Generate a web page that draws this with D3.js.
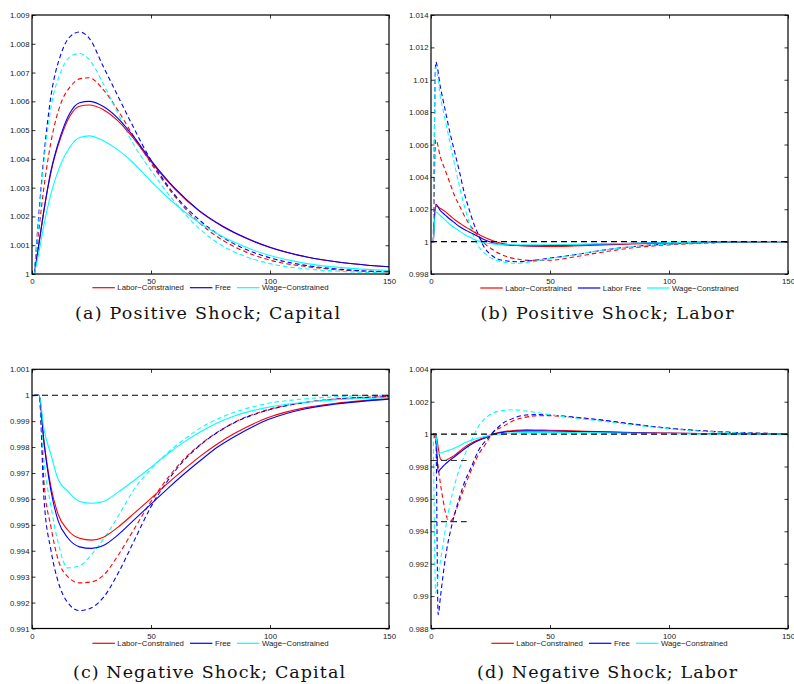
<!DOCTYPE html>
<html>
<head>
<meta charset="utf-8">
<script src="https://cdn.jsdelivr.net/npm/d3@7"></script>
<style>
  body { margin: 0; background: #fff; }
  svg { display: block; }
</style>
</head>
<body>
<div id="chart"></div>
<script>
const WIDTH = 794;
const HEIGHT = 684;

const COLORS = ["#ff0000", "#0000ff", "#00ffff"];
const xTicks = [0, 50, 100, 150];

const legendCapital = ["Labor\u2212Constrained", "Free", "Wage\u2212Constrained"];
const legendLaborB = ["Labor\u2212Constrained", "Labor Free", "Wage\u2212Constrained"];

// (a) positive shock, capital
const xA = [1, 3, 5, 8, 12, 16, 20, 24, 30, 36, 42, 50, 60, 70, 80, 90, 100, 115, 130, 150];
const aLabor = [1.0, 1.0011, 1.0022, 1.00355, 1.00472, 1.0055, 1.00583, 1.00587, 1.00571, 1.00533, 1.00478, 1.0039, 1.00295, 1.0022, 1.00165, 1.00124, 1.00092, 1.0006, 1.0004, 1.00025];
const aFree = [1.0, 1.0011, 1.0022, 1.0036, 1.0048, 1.0056, 1.00595, 1.006, 1.00582, 1.00542, 1.00485, 1.00395, 1.00298, 1.00222, 1.00167, 1.00125, 1.00093, 1.0006, 1.0004, 1.00025];
const aWage = [1.0, 1.0008, 1.0017, 1.0028, 1.0038, 1.00442, 1.00474, 1.0048, 1.00463, 1.00432, 1.0039, 1.00322, 1.00244, 1.0018, 1.0013, 1.00093, 1.00064, 1.00037, 1.00022, 1.00012];
const aLaborD = [1.0, 1.0016, 1.003, 1.0046, 1.0059, 1.0065, 1.00678, 1.00682, 1.0064, 1.0057, 1.00488, 1.00385, 1.0027, 1.0018, 1.00118, 1.00076, 1.00048, 1.00026, 1.00014, 1.00007];
const aFreeD = [1.0, 1.0022, 1.0041, 1.0062, 1.0076, 1.00825, 1.00841, 1.0082, 1.0072, 1.0062, 1.0052, 1.00395, 1.00275, 1.0019, 1.00128, 1.00085, 1.00056, 1.0003, 1.00016, 1.00008];
const aWageD = [1.0, 1.002, 1.0039, 1.0058, 1.007, 1.00755, 1.00766, 1.00745, 1.0066, 1.0056, 1.0046, 1.0036, 1.0025, 1.0016, 1.00098, 1.0006, 1.00036, 1.00018, 1.00009, 1.00004];
const yTicksA = [1, 1.001, 1.002, 1.003, 1.004, 1.005, 1.006, 1.007, 1.008, 1.009];

// (b) positive shock, labor
const xB = [1, 2, 4, 6, 8, 10, 12, 14, 16, 18, 20, 22, 26, 30, 36, 42, 50, 60, 70, 85, 100, 120, 150];
const bLabor = [1, 1.0022, 1.00205, 1.00185, 1.0016, 1.00135, 1.00115, 1.00095, 1.00078, 1.0006, 1.00045, 1.0003, 1.00005, 0.99988, 0.99976, 0.99971, 0.9997, 0.99973, 0.99978, 0.99986, 0.99992, 0.99997, 1.0];
const bFree = [1, 1.0023, 1.0019, 1.00164, 1.00138, 1.00115, 1.00093, 1.00075, 1.0006, 1.00045, 1.0003, 1.00015, 0.99993, 0.99982, 0.99976, 0.99975, 0.99976, 0.99979, 0.99983, 0.99989, 0.99994, 0.99998, 1.0];
const bWage = [1, 1.00185, 1.0016, 1.00133, 1.00106, 1.00084, 1.00065, 1.00045, 1.0003, 1.00015, 1.00003, 0.99995, 0.99986, 0.99981, 0.9998, 0.9998, 0.99981, 0.99983, 0.99986, 0.9999, 0.99994, 0.99998, 1.0];
const bLaborD = [1, 1.0063, 1.0052, 1.0044, 1.0036, 1.0028, 1.0022, 1.0016, 1.0011, 1.0007, 1.0003, 0.99995, 0.9995, 0.99917, 0.99893, 0.99884, 0.99885, 0.99905, 0.9993, 0.99962, 0.9998, 0.99993, 1.0];
const bFreeD = [1, 1.0111, 1.0095, 1.0081, 1.0067, 1.0055, 1.0043, 1.003, 1.002, 1.0011, 1.0004, 0.99975, 0.9991, 0.99885, 0.99876, 0.99882, 0.99898, 0.99918, 0.99942, 0.9997, 0.99985, 0.99995, 1.0];
const bWageD = [1, 1.0108, 1.0089, 1.0075, 1.0061, 1.0047, 1.0034, 1.0022, 1.0012, 1.0003, 0.9997, 0.99935, 0.99893, 0.99875, 0.99866, 0.99875, 0.99895, 0.99918, 0.99942, 0.9997, 0.99985, 0.99995, 1.0];
const yTicksB = [0.998, 1, 1.002, 1.004, 1.006, 1.008, 1.01, 1.012, 1.014];

// (c) negative shock, capital
const xC = [1, 3, 5, 8, 11, 15, 20, 25, 30, 36, 43, 50, 57, 64, 71, 78, 85, 99, 115, 127, 150];
const cLabor = [1, 1, 0.99825, 0.99645, 0.9954, 0.9948, 0.99448, 0.99441, 0.99452, 0.9949, 0.99545, 0.99602, 0.9966, 0.99715, 0.99767, 0.99813, 0.99852, 0.99913, 0.99952, 0.99968, 0.99987];
const cFree = [1, 1, 0.9982, 0.9963, 0.99515, 0.9945, 0.99415, 0.99409, 0.9942, 0.9946, 0.9952, 0.9958, 0.9964, 0.99697, 0.9975, 0.998, 0.9984, 0.99905, 0.99948, 0.99965, 0.99985];
const cWage = [1, 1, 0.9987, 0.9977, 0.99675, 0.9963, 0.9959, 0.99583, 0.9959, 0.99625, 0.99672, 0.99722, 0.99774, 0.9982, 0.9986, 0.99894, 0.9992, 0.99953, 0.99973, 0.99982, 0.9999];
const cLaborD = [1, 1, 0.9967, 0.9949, 0.99365, 0.993, 0.99276, 0.9928, 0.99305, 0.9938, 0.99485, 0.9959, 0.9968, 0.99755, 0.99812, 0.99858, 0.99895, 0.99944, 0.99973, 0.99985, 0.99995];
const cFreeD = [1, 1, 0.99605, 0.994, 0.9928, 0.992, 0.99169, 0.9918, 0.9922, 0.9931, 0.9944, 0.9957, 0.9967, 0.9975, 0.9981, 0.99857, 0.99894, 0.99942, 0.99972, 0.99984, 0.99994];
const cWageD = [1, 1, 0.9975, 0.9957, 0.9943, 0.99334, 0.99342, 0.99385, 0.99445, 0.9953, 0.99638, 0.99715, 0.99778, 0.9983, 0.99875, 0.99908, 0.99934, 0.99968, 0.99986, 0.99994, 1.0];
const yTicksC = [0.991, 0.992, 0.993, 0.994, 0.995, 0.996, 0.997, 0.998, 0.999, 1, 1.001];

// (d) negative shock, labor
const xD = [1, 2, 3, 4, 5, 6, 7, 8, 10, 12, 14, 17, 20, 23, 26, 30, 35, 40, 45, 50, 60, 70, 85, 100, 120, 150];
const dLabor = [1, 1.0, 0.9992, 0.99845, 0.99837, 0.99838, 0.99845, 0.99853, 0.9987, 0.99895, 0.99918, 0.99945, 0.99965, 0.99983, 1.0, 1.00015, 1.00022, 1.00026, 1.00025, 1.00024, 1.0002, 1.00016, 1.0001, 1.00006, 1.00002, 1.0];
const dFree = [1, 1.0, 0.99765, 0.99785, 0.998, 0.99815, 0.99828, 0.9984, 0.99862, 0.99885, 0.99908, 0.99937, 0.9996, 0.99978, 0.99997, 1.0001, 1.00018, 1.0002, 1.0002, 1.00019, 1.00016, 1.00013, 1.00008, 1.00005, 1.00002, 1.0];
const dWage = [1, 1.0, 0.99878, 0.99883, 0.99888, 0.99893, 0.99898, 0.99903, 0.99915, 0.99928, 0.99945, 0.99962, 0.99976, 0.99987, 0.99995, 1.00003, 1.00008, 1.0001, 1.0001, 1.0001, 1.00009, 1.00008, 1.00005, 1.00003, 1.00001, 1.0];
const dLaborD = [1, 0.9995, 0.998, 0.9969, 0.996, 0.9952, 0.99475, 0.9946, 0.9951, 0.9959, 0.9967, 0.9978, 0.99875, 0.9994, 1.0001, 1.00045, 1.00085, 1.00105, 1.00113, 1.00113, 1.00103, 1.00088, 1.0006, 1.00036, 1.00015, 1.00002];
const dFreeD = [1, 1.0, 0.98885, 0.99, 0.9912, 0.9923, 0.9932, 0.9939, 0.9951, 0.9961, 0.997, 0.998, 0.999, 0.9996, 1.0001, 1.00065, 1.001, 1.00118, 1.0012, 1.00118, 1.00105, 1.0009, 1.00062, 1.00036, 1.00015, 1.00002];
const dWageD = [1, 0.9902, 0.9912, 0.9922, 0.9931, 0.9941, 0.9949, 0.9957, 0.9969, 0.9979, 0.99865, 0.99962, 1.0005, 1.001, 1.0013, 1.00145, 1.0015, 1.00142, 1.00132, 1.0012, 1.001, 1.00083, 1.00057, 1.00033, 1.00013, 1.00002];
const yTicksD = [0.988, 0.99, 0.992, 0.994, 0.996, 0.998, 1, 1.002, 1.004];

// black dashed reference segments: [y, xStart, xEnd]
const refFull = [[1, 0, 150]];
const refD = [[1, 0, 150], [0.99837, 0, 15], [0.9946, 0, 15]];

const panels = [
  { x: xA, solid: [aLabor, aFree, aWage], dashed: [aLaborD, aFreeD, aWageD], yDomain: [1, 1.009], yTicks: yTicksA,
    refs: [], legend: legendCapital, caption: "(a) Positive Shock; Capital",
    box: { left: 32, right: 389, top: 15, bottom: 274 }, legendY: 287.7, capX: 207.5, capY: 319, capW: 265 },
  { x: xB, solid: [bLabor, bFree, bWage], dashed: [bLaborD, bFreeD, bWageD], yDomain: [0.998, 1.014], yTicks: yTicksB,
    refs: refFull, legend: legendLaborB, caption: "(b) Positive Shock; Labor",
    box: { left: 431, right: 788, top: 15, bottom: 274 }, legendY: 288, capX: 607, capY: 319, capW: 253 },
  { x: xC, solid: [cLabor, cFree, cWage], dashed: [cLaborD, cFreeD, cWageD], yDomain: [0.991, 1.001], yTicks: yTicksC,
    refs: refFull, legend: legendCapital, caption: "(c) Negative Shock; Capital",
    box: { left: 32, right: 389, top: 369.3, bottom: 628.5 }, legendY: 643.3, capX: 209, capY: 677.5, capW: 272 },
  { x: xD, solid: [dLabor, dFree, dWage], dashed: [dLaborD, dFreeD, dWageD], yDomain: [0.988, 1.004], yTicks: yTicksD,
    refs: refD, legend: legendCapital, caption: "(d) Negative Shock; Labor",
    box: { left: 431, right: 788, top: 369.3, bottom: 628.5 }, legendY: 643.3, capX: 607, capY: 677.5, capW: 260 },
];

const svg = d3
  .select("#chart")
  .append("svg")
  .attr("width", WIDTH)
  .attr("height", HEIGHT)
  .attr("viewBox", `0 0 ${WIDTH} ${HEIGHT}`);

svg.append("rect").attr("width", WIDTH).attr("height", HEIGHT).attr("fill", "#fff");

const tickFmt = d3.format("~g");

function styleAxis(g) {
  g.select(".domain").remove();
  g.attr("font-family", "'Liberation Sans', Arial, sans-serif").attr("font-size", 7.8);
  g.selectAll("line").attr("stroke", "#000").attr("stroke-width", 0.8);
  g.selectAll("text").attr("fill", "#222");
}

function drawPanel(p, idx) {
  const { left, right, top, bottom } = p.box;
  const x = d3.scaleLinear().domain([0, 150]).range([left, right]);
  const y = d3.scaleLinear().domain(p.yDomain).range([bottom, top]);
  const g = svg.append("g");

  const clipId = `clip-${idx}`;
  g.append("clipPath")
    .attr("id", clipId)
    .append("rect")
    .attr("x", left)
    .attr("y", top)
    .attr("width", right - left)
    .attr("height", bottom - top);

  const line = d3
    .line()
    .x((d) => x(d[0]))
    .y((d) => y(d[1]))
    .curve(d3.curveMonotoneX);

  const plot = g.append("g").attr("clip-path", `url(#${clipId})`);

  p.dashed.forEach((vals, i) => {
    plot
      .append("path")
      .datum(d3.zip(p.x, vals))
      .attr("d", line)
      .attr("fill", "none")
      .attr("stroke", COLORS[i])
      .attr("stroke-width", 1.1)
      .attr("stroke-dasharray", "4.5,3");
  });

  p.solid.forEach((vals, i) => {
    plot
      .append("path")
      .datum(d3.zip(p.x, vals))
      .attr("d", line)
      .attr("fill", "none")
      .attr("stroke", COLORS[i])
      .attr("stroke-width", 1.1);
  });

  plot
    .selectAll("line.ref")
    .data(p.refs)
    .join("line")
    .attr("class", "ref")
    .attr("x1", (d) => x(d[1]))
    .attr("x2", (d) => x(d[2]))
    .attr("y1", (d) => y(d[0]))
    .attr("y2", (d) => y(d[0]))
    .attr("stroke", (d, i) => (i === 0 ? "#000" : "#333"))
    .attr("stroke-width", 1.1)
    .attr("stroke-dasharray", "6,4");

  // axes: ticks point inward on all four sides
  g.append("g")
    .attr("transform", `translate(0,${bottom})`)
    .call(d3.axisBottom(x).tickValues(xTicks).tickSizeInner(-3.5).tickSizeOuter(0).tickPadding(4.5).tickFormat(d3.format("d")))
    .call(styleAxis);

  g.append("g")
    .attr("transform", `translate(0,${top})`)
    .call(d3.axisTop(x).tickValues(xTicks).tickSizeInner(-3.5).tickSizeOuter(0).tickFormat(""))
    .call(styleAxis);

  g.append("g")
    .attr("transform", `translate(${left},0)`)
    .call(d3.axisLeft(y).tickValues(p.yTicks).tickSizeInner(-3.5).tickSizeOuter(0).tickPadding(2.5).tickFormat(tickFmt))
    .call(styleAxis);

  g.append("g")
    .attr("transform", `translate(${right},0)`)
    .call(d3.axisRight(y).tickValues(p.yTicks).tickSizeInner(-3.5).tickSizeOuter(0).tickFormat(""))
    .call(styleAxis);

  g.append("rect")
    .attr("x", left)
    .attr("y", top)
    .attr("width", right - left)
    .attr("height", bottom - top)
    .attr("fill", "none")
    .attr("stroke", "#000")
    .attr("stroke-width", 1.2);

  // legend row centred under the plot
  const leg = g.append("g");
  const items = leg
    .selectAll("g")
    .data(p.legend)
    .join("g");
  items
    .append("line")
    .attr("x1", 0)
    .attr("x2", 22.5)
    .attr("y1", p.legendY)
    .attr("y2", p.legendY)
    .attr("stroke", (d, i) => COLORS[i])
    .attr("stroke-width", 1.2);
  items
    .append("text")
    .attr("x", 25)
    .attr("y", p.legendY)
    .attr("dy", "0.35em")
    .attr("font-family", "'Liberation Sans', Arial, sans-serif")
    .attr("font-size", 7.8)
    .attr("fill", "#222")
    .text((d) => d);

  let offset = 0;
  const offsets = [];
  items.each(function () {
    offsets.push(offset);
    const w = d3.select(this).select("text").node().getComputedTextLength();
    offset += 25 + w + 6;
  });
  const total = offset - 6;
  const start = (left + right) / 2 - total / 2;
  items.attr("transform", (d, i) => `translate(${start + offsets[i]},0)`);

  svg
    .append("text")
    .attr("x", p.capX)
    .attr("y", p.capY)
    .attr("text-anchor", "middle")
    .attr("font-family", "'DejaVu Serif', serif")
    .attr("font-size", 17.5)
    .attr("fill", "#111")
    .attr("textLength", p.capW)
    .attr("lengthAdjust", "spacing")
    .text(p.caption);
}

panels.forEach(drawPanel);
</script>
</body>
</html>
